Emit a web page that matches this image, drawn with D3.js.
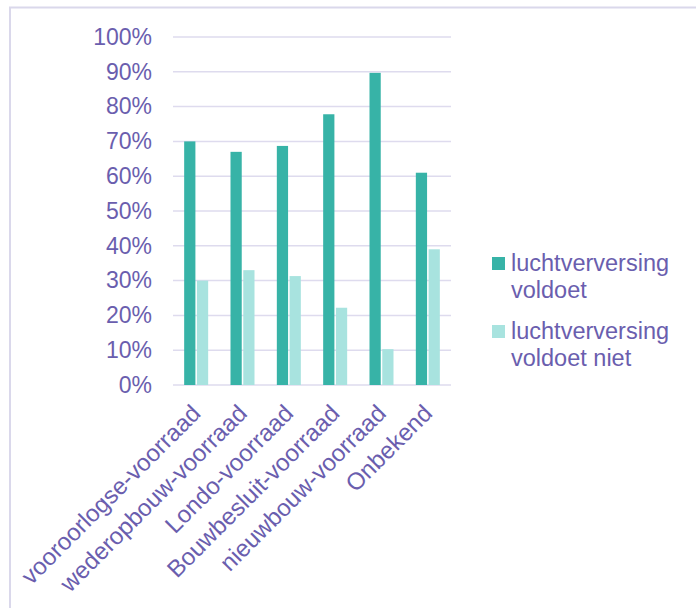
<!DOCTYPE html>
<html>
<meta charset="utf-8">
<style>
body { margin: 0; background: #fff; }
text { font-family: "Liberation Sans", Arial, sans-serif; fill: #6a5eae; }
</style>
<svg id="chart" width="696" height="608"></svg>
<script src="https://d3js.org/d3.v7.min.js"></script>
<script>

var categories = ["vooroorlogse-voorraad", "wederopbouw-voorraad", "Londo-voorraad",
                  "Bouwbesluit-voorraad", "nieuwbouw-voorraad", "Onbekend"];
var voldoet    = [0.70, 0.67, 0.687, 0.778, 0.897, 0.61];
var voldoetNiet = [0.30, 0.33, 0.313, 0.222, 0.103, 0.39];
var seriesNames = ["luchtverversing voldoet", "luchtverversing voldoet niet"];
var yTicks = [0, 0.1, 0.2, 0.3, 0.4, 0.5, 0.6, 0.7, 0.8, 0.9, 1];

var colors = ["#37b3a7", "#a8e3df"];

var svg = d3.select("#chart");

// outer frame, right and bottom fall outside the window
svg.append("rect")
    .attr("x", 10).attr("y", 7.5)
    .attr("width", 720).attr("height", 640)
    .attr("fill", "none")
    .attr("stroke", "#dad8eb")
    .attr("stroke-width", 2);

var plotLeft = 173, plotRight = 451, plotTop = 37, plotBottom = 385;

var x = d3.scaleBand()
    .domain(categories)
    .range([plotLeft, plotRight]);

var xs = d3.scaleBand()
    .domain([0, 1])
    .range([x.bandwidth() / 2 - 12, x.bandwidth() / 2 + 12])
    .paddingInner(0.12);

var y = d3.scaleLinear()
    .domain([0, 1])
    .range([plotBottom, plotTop]);

// gridlines
svg.append("g")
  .selectAll("line")
  .data(yTicks)
  .enter().append("line")
    .attr("x1", plotLeft).attr("x2", plotRight)
    .attr("y1", function(d) { return y(d); })
    .attr("y2", function(d) { return y(d); })
    .attr("stroke", "#dedbee")
    .attr("stroke-width", 1.5);

// y axis labels
var yAxis = svg.append("g")
    .attr("transform", "translate(" + plotLeft + ",0)")
    .call(d3.axisLeft(y).tickValues(yTicks).tickFormat(d3.format(".0%")).tickSize(0).tickPadding(21));
yAxis.select(".domain").remove();
yAxis.selectAll("text")
    .attr("fill", "#6a5eae")
    .style("font-size", "23px")
    .style("font-family", "'Liberation Sans', Arial, sans-serif");

// bars
var data = [voldoet, voldoetNiet];
data.forEach(function(vals, s) {
  svg.append("g")
    .attr("fill", colors[s])
    .selectAll("rect")
    .data(vals)
    .enter().append("rect")
      .attr("x", function(d, i) { return x(categories[i]) + xs(s); })
      .attr("y", function(d) { return y(d); })
      .attr("width", xs.bandwidth())
      .attr("height", function(d) { return y(0) - y(d); });
});

// x labels
svg.append("g")
  .selectAll("text")
  .data(categories)
  .enter().append("text")
    .attr("transform", function(d) {
      return "translate(" + (x(d) + x.bandwidth() / 2 - 6) + "," + (plotBottom + 18) + ") rotate(-45)";
    })
    .attr("text-anchor", "end")
    .attr("dy", "0.7em")
    .style("font-size", "24px")
    .text(function(d) { return d; });

// legend
var legend = svg.append("g")
    .attr("transform", "translate(492,257)");

var item = legend.selectAll("g")
    .data(seriesNames)
  .enter().append("g")
    .attr("transform", function(d, i) { return "translate(0," + (i * 68) + ")"; });

item.append("rect")
    .attr("width", 13).attr("height", 13)
    .attr("fill", function(d, i) { return colors[i]; });

item.append("text")
    .attr("y", 14)
    .style("font-size", "23.5px")
    .each(function(d) {
      var t = d3.select(this);
      var parts = [d.slice(0, 15), d.slice(16)];
      parts.forEach(function(p, j) {
        t.append("tspan").attr("x", 19).attr("dy", j ? 27 : 0).text(p);
      });
    });

</script>
</html>
